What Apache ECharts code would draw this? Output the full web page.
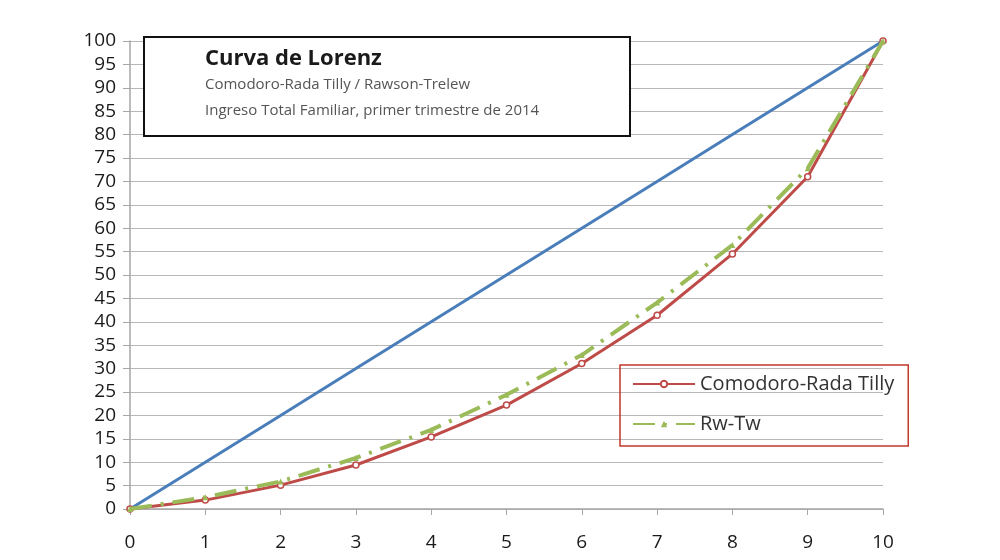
<!DOCTYPE html>
<html>
<head>
<meta charset="utf-8">
<script src="https://cdn.jsdelivr.net/npm/echarts@6/dist/echarts.min.js"></script>
<style>
  html, body { margin: 0; padding: 0; background: #fff; }
  #chart { width: 1000px; height: 560px; }
</style>
</head>
<body>
<div id="chart"></div>
<script>
  /* deciles of population (x) and cumulative income share (y) */
  var deciles = [0, 1, 2, 3, 4, 5, 6, 7, 8, 9, 10];
  var equality = [0, 10, 20, 30, 40, 50, 60, 70, 80, 90, 100];
  var comodoro = [0, 1.9, 5.1, 9.4, 15.4, 22.2, 31.1, 41.4, 54.5, 71, 100];
  var rwTw = [0, 2.5, 5.9, 10.9, 16.9, 24.4, 32.9, 44.1, 56.4, 72.8, 100];

  var FONT = "'Open Sans', 'Liberation Sans', sans-serif";

  function pairs(ys) {
    var out = [];
    for (var i = 0; i < deciles.length; i++) { out.push([deciles[i], ys[i]]); }
    return out;
  }

  var chart = echarts.init(document.getElementById("chart"));
  chart.setOption({
    animation: false,
    backgroundColor: "#ffffff",
    grid: { left: 130, right: 117, top: 41, bottom: 51 },
    xAxis: {
      type: "value", min: 0, max: 10, interval: 1,
      axisLine: { lineStyle: { color: "#a6a6a6", width: 1.5 } },
      axisTick: { show: true, length: 6, lineStyle: { color: "#a6a6a6" } },
      axisLabel: { color: "#1a1a1a", fontSize: 19, fontFamily: FONT, margin: 24 },
      splitLine: { show: false }
    },
    yAxis: {
      type: "value", min: 0, max: 100, interval: 5,
      axisLine: { show: true, lineStyle: { color: "#a6a6a6", width: 1.5 } },
      axisTick: { show: true, length: 7, lineStyle: { color: "#a6a6a6" } },
      axisLabel: { color: "#1a1a1a", fontSize: 19, fontFamily: FONT, margin: 14 },
      splitLine: { lineStyle: { color: "#b8b8b8", width: 1.2 } }
    },
    legend: {
      orient: "vertical",
      left: 620, top: 365,
      data: ["Comodoro-Rada Tilly", "Rw-Tw"],
      itemWidth: 62, itemHeight: 8, itemGap: 20,
      padding: [9, 14, 12, 12],
      borderColor: "#c0392b", borderWidth: 1.5,
      textStyle: { color: "#333", fontSize: 20, fontFamily: FONT }
    },
    series: [
      {
        name: "Igualdad", type: "line", data: pairs(equality),
        showSymbol: false, symbol: "none",
        lineStyle: { color: "#4a7ebb", width: 3 }, z: 2
      },
      {
        name: "Comodoro-Rada Tilly", type: "line", data: pairs(comodoro),
        symbol: "circle", symbolSize: 6,
        itemStyle: { color: "#ffffff", borderColor: "#be4b48", borderWidth: 1.5 },
        lineStyle: { color: "#be4b48", width: 3 }, z: 3
      },
      {
        name: "Rw-Tw", type: "line", data: pairs(rwTw),
        symbol: "triangle", symbolSize: 6,
        itemStyle: { color: "#9bbb59" },
        lineStyle: { color: "#9bbb59", width: 4, type: [22, 9, 3, 9] }, z: 4
      }
    ],
    graphic: [
      {
        type: "rect", left: 143, top: 36,
        shape: { width: 486, height: 99 },
        style: { fill: "#ffffff", stroke: "#111111", lineWidth: 2 }, z: 10
      },
      {
        type: "text", left: 205, top: 48, z: 11,
        style: { text: "Curva de Lorenz", fill: "#1a1a1a", fontSize: 22, fontWeight: "bold", fontFamily: FONT }
      },
      {
        type: "text", left: 205, top: 77, z: 11,
        style: { text: "Comodoro-Rada Tilly / Rawson-Trelew", fill: "#555555", fontSize: 15, fontFamily: FONT }
      },
      {
        type: "text", left: 205, top: 103, z: 11,
        style: { text: "Ingreso Total Familiar, primer trimestre de 2014", fill: "#555555", fontSize: 15, fontFamily: FONT }
      }
    ]
  });
</script>
</body>
</html>
